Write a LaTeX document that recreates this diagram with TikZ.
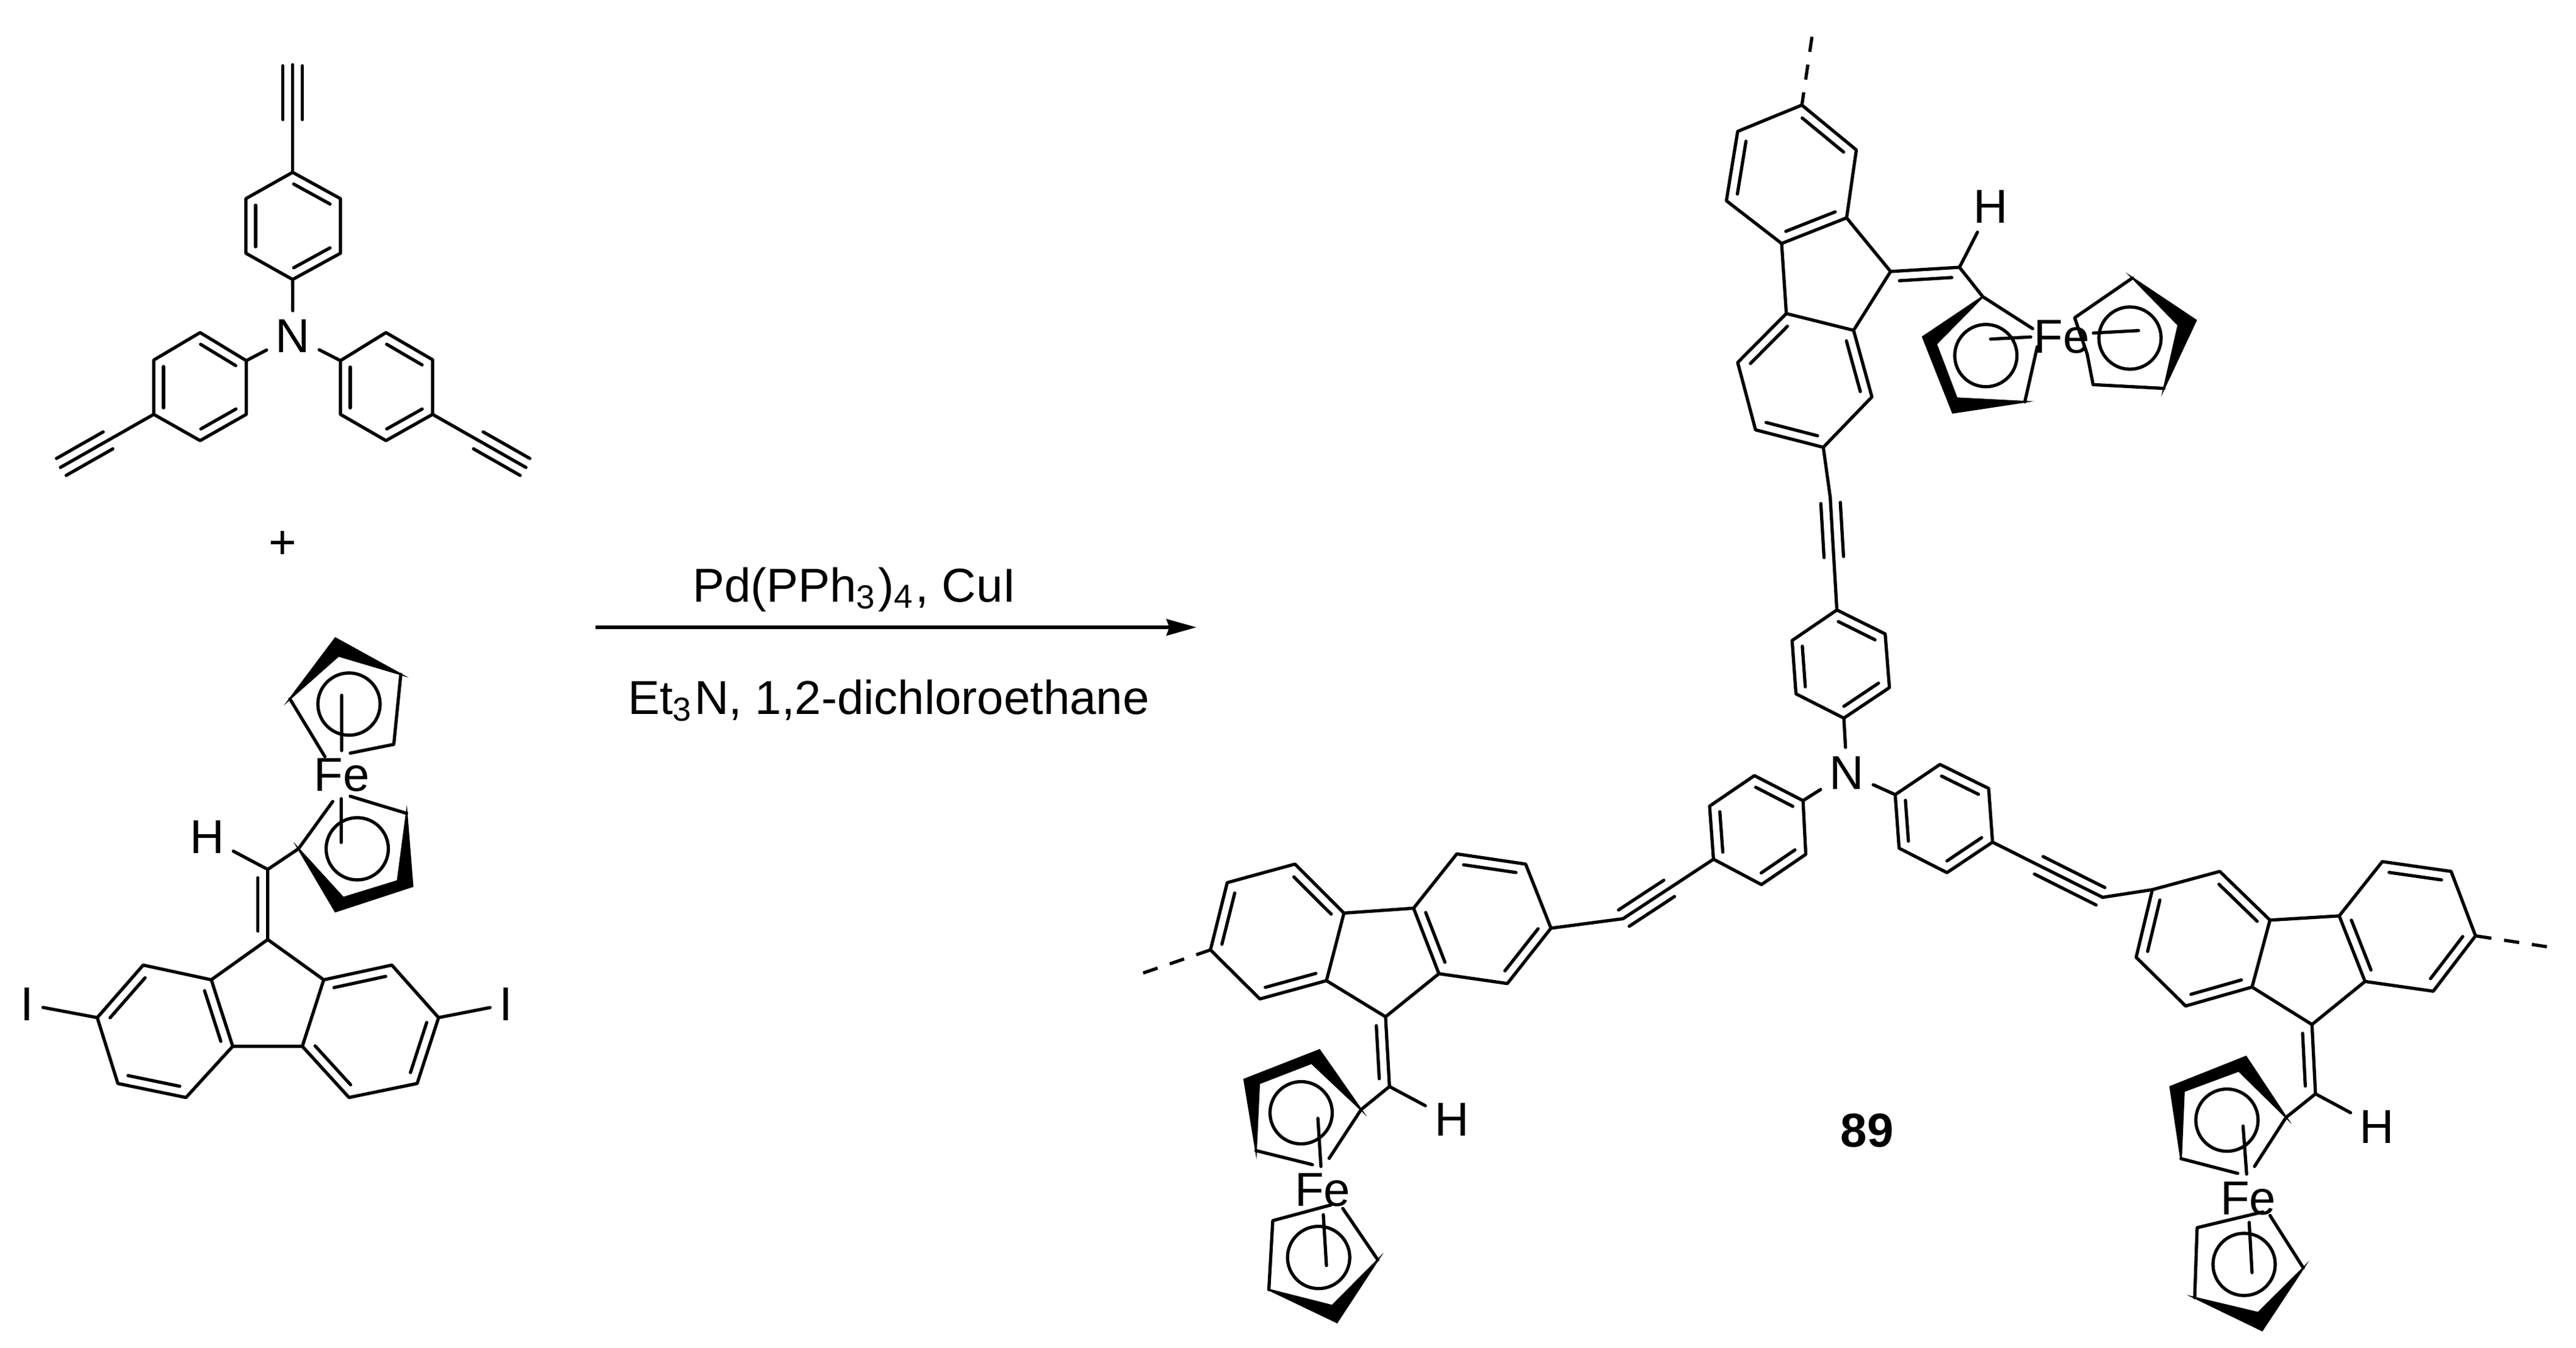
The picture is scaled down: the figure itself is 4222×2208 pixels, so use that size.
\documentclass[tikz,border=0pt]{standalone}
\usepackage{fontspec}
\setmainfont{Liberation Sans}
\usetikzlibrary{arrows.meta,calc}
\tikzstyle{bond}=[line width=.53pt,line cap=round,line join=round]
\tikzstyle{wedge}=[fill=black,draw=black,line width=.3pt,line join=miter]
\tikzstyle{free}=[line width=.53pt,line cap=butt,dash pattern=on 2.5pt off 2.1pt]
\tikzstyle{atom}=[inner sep=1.3pt,font=\fontsize{7.8}{9.4}\selectfont]
\tikzstyle{rxn}=[line width=.6pt,-{Stealth[length=4.9pt,width=2.67pt,inset=.45pt]}]
\newcommand{\dbond}[2]{\draw[bond] ($(#1)!.12!(#2)!1.6pt!-90:(#2)$) -- ($(#2)!.12!(#1)!1.6pt!90:(#1)$);}
\newcommand{\tbond}[4]{\draw[bond] (#1) -- (#2)
  ($(#1)!#3!(#2)!1.6pt!90:(#2)$) -- ($(#1)!#4!(#2)!1.6pt!90:(#2)$)
  ($(#1)!#3!(#2)!1.6pt!-90:(#2)$) -- ($(#1)!#4!(#2)!1.6pt!-90:(#2)$);}
\newcommand{\atomlist}[1]{\foreach \n/\x/\y in {#1} \coordinate (\n) at (\x,\y);}
\begin{document}
\begin{tikzpicture}[x=.1pt,y=-.1pt]
\useasboundingbox (0,0) rectangle (4222,2208);
% triamine
\node[atom] (nA) at (480,551) {N};
\atomlist{a1/479.6/282.4,a2/558/325.5,a3/558/415,a4/479.6/458,a5/403/415,a6/403/325.5,aEnd/479.6/106}
\atomlist{l1/403.7/591,l2/328/545,l3/252/590,l4/252/679,l5/328/722,l6/403.7/679,lEnd/99/766}
\atomlist{r1/558/591,r2/632.6/545,r3/709/589.5,r4/709/679,r5/632.6/722,r6/558/679,rEnd/862/766}
\draw[bond] (a1)--(a2)--(a3)--(a4)--(a5)--(a6)--cycle;
\draw[bond] (l1)--(l2)--(l3)--(l4)--(l5)--(l6)--cycle;
\draw[bond] (r1)--(r2)--(r3)--(r4)--(r5)--(r6)--cycle;
\dbond{a1}{a2} \dbond{a3}{a4} \dbond{a5}{a6}
\dbond{l2}{l1} \dbond{l4}{l3} \dbond{l6}{l5}
\dbond{r2}{r3} \dbond{r4}{r5} \dbond{r6}{r1}
\tbond{a1}{aEnd}{.49}{.99}
\tbond{l4}{lEnd}{.49}{.99}
\tbond{r4}{rEnd}{.49}{.99}
\draw[bond] (a4) -- (nA);
\draw[bond] (l1) -- (nA);
\draw[bond] (r1) -- (nA);
\node[atom] (plus) at (463,893) {+};
% iodofluorene
\node[atom] (bI1) at (44.6,1646) {I};
\node[atom] (bI2) at (829,1646) {I};
\node[atom] (bH) at (339.3,1372) {H};
\node[atom] (bFe) at (560,1270) {Fe};
\atomlist{bl1/346.3/1605.6,bl2/234.7/1581.5,bl3/159.4/1667.6,bl4/193.2/1775.5,bl5/304.8/1798.5,bl6/381.4/1714.6}
\atomlist{br1/530.6/1605.6,br2/642.2/1581.5,br3/718.8/1667.6,br4/683.7/1775.5,br5/572/1798.5,br6/495.5/1714.6}
\atomlist{bC9/438.8/1539.6,bCH/438.8/1424.7}
\draw[bond] (bl1)--(bl2)--(bl3)--(bl4)--(bl5)--(bl6)--cycle;
\draw[bond] (br1)--(br2)--(br3)--(br4)--(br5)--(br6)--cycle;
\draw[bond] (bl1)--(bC9)--(br1) (bl6)--(br6) (bC9)--(bCH);
\dbond{bl1}{bl6} \dbond{bl3}{bl2} \dbond{bl5}{bl4}
\dbond{br1}{br2} \dbond{br3}{br4} \dbond{br5}{br6}
\dbond{bCH}{bC9}
\draw[bond] (bI1) -- (bl3);
\draw[bond] (bI2) -- (br3);
\draw[bond] (bH) -- (bCH);
\atomlist{bc1/475.1/1145.2,bc2/549.7/1045.9,bc3/656.9/1105,bc4/554.8/1074.6,bc5/532.5/1239.9,bc6/645.4/1219.8,bc7/574/1234.2,bc8/572/1153.8,bs1/560/1139.4,bs2/560/1230}
\atomlist{bd1/489.2/1390.9,bd2/545.3/1313.4,bd3/574/1304.8,bd4/666.5/1332.9,bd5/676/1452.3,bd6/549.7/1493.6,bd7/562.5/1471.2,bd8/651.8/1443.7,bd9/585.5/1390.9,bt1/559.3/1308.8,bt2/559.3/1380.5}
\fill[wedge] (bc1)--(bc2)--(bc3)--(bc4)--cycle;
\draw[bond] (bc1)--(bc5) (bc7)--(bc6)--(bc3) (bs1)--(bs2);
\draw[bond] (bc8) circle [radius=5.1pt];
\fill[wedge] (bd4)--(bd5)--(bd6)--(bd1)--(bd7)--(bd8)--cycle;
\draw[bond] (bd2)--(bd1)--(bCH) (bd3)--(bd4) (bt1)--(bt2);
\draw[bond] (bd9) circle [radius=5.1pt];
% reagents
\coordinate (arrS) at (976,1028);
\coordinate (arrE) at (1961,1028);
\draw[rxn] (arrS) -- (arrE);
\node[atom,anchor=base west,inner sep=0pt] (cond1) at (1133,986.7) {Pd(PPh\textsubscript{3})\textsubscript{4}, CuI};
\node[atom,anchor=base west,inner sep=0pt] (cond2) at (1027,1170.7) {Et\textsubscript{3}N, 1,2-dichloroethane};
% product core
\node[atom] (nP) at (3027,1266.5) {N};
\atomlist{t1/3010.6/999.6,t2/3089.7/1038.8,t3/3096.7/1126.8,t4/3022/1176.8,t5/2943.6/1137,t6/2937.2/1049.6}
\atomlist{p1/2955.1/1312,p2/2875.4/1271,p3/2802/1321,p4/2808.4/1408,p5/2886.9/1449.6,p6/2959.6/1400}
\atomlist{q1/3106.2/1302.2,q2/3179.6/1252.7,q3/3259.3/1292,q4/3265.7/1380,q5/3191/1430,q6/3112.6/1390}
\atomlist{tc/2999.7/815,pc/2660/1505.5,qc/3446.2/1470.5}
\draw[bond] (t1)--(t2)--(t3)--(t4)--(t5)--(t6)--cycle;
\draw[bond] (p1)--(p2)--(p3)--(p4)--(p5)--(p6)--cycle;
\draw[bond] (q1)--(q2)--(q3)--(q4)--(q5)--(q6)--cycle;
\dbond{t1}{t2} \dbond{t3}{t4} \dbond{t5}{t6}
\dbond{p2}{p1} \dbond{p4}{p3} \dbond{p6}{p5}
\dbond{q2}{q3} \dbond{q4}{q5} \dbond{q6}{q1}
\tbond{tc}{t1}{.05}{.53}
\tbond{p4}{pc}{.49}{.99}
\tbond{q4}{qc}{.42}{.98}
\draw[bond] (t4) -- (nP);
\draw[bond] (p1) -- (nP);
\draw[bond] (q1) -- (nP);
\node[atom,font=\fontsize{7.8}{9.4}\selectfont\bfseries] (cmpd) at (3060,1853) {89};
% upper arm
\node[atom] (uH) at (3262.5,338.7) {H};
\node[atom] (uFe) at (3379.2,552.2) {Fe};
\atomlist{ua1/2953.2/172.2,ua2/3042.5/245.7,ua3/3026.5/357,ua4/2920/399,ua5/2829.5/329,ua6/2848/215.3,uEnd/2969.8/60.3}
\atomlist{ub1/2927.7/513.8,ub2/3038/541.3,ub3/3068/650.4,ub4/2988.3/733,ub5/2877.3/704.4,ub6/2848/594}
\atomlist{uC9/3098.6/444.9,uCH/3211.5/438}
\draw[bond] (ua1)--(ua2)--(ua3)--(ua4)--(ua5)--(ua6)--cycle;
\draw[bond] (ub1)--(ub2)--(ub3)--(ub4)--(ub5)--(ub6)--cycle;
\draw[bond] (ua3)--(uC9)--(ub2) (ua4)--(ub1) (uC9)--(uCH) (ub4)--(tc);
\dbond{ua1}{ua2} \dbond{ua3}{ua4} \dbond{ua5}{ua6}
\dbond{ub2}{ub3} \dbond{ub4}{ub5} \dbond{ub6}{ub1}
\dbond{uC9}{uCH}
\draw[free] (uEnd) -- (ua1);
\draw[bond] (uH) -- (uCH);
\atomlist{uc1/3249.7/486.2,uc2/3331.4/538.5,uc3/3151.5/552.2,uc4/3200.6/676.2,uc5/3318.6/658.4,uc6/3207/652.7,uc7/3173.2/563.7,uc8/3339/568.3,uc9/3254.8/582.7,us1/3262.5/555.7,us2/3328.2/552.2}
\atomlist{ud1/3420.7/579.8,ud2/3430.5/630.3,ud3/3546.7/636.5,ud4/3599/525,ud5/3495/455.5,ud6/3570.3/532.7,ud7/3400.3/520.7,ud8/3491/554,ut1/3431/545.7,ut2/3505/541.7}
\fill[wedge] (uc1)--(uc3)--(uc4)--(uc5)--(uc6)--(uc7)--cycle;
\draw[bond] (uCH)--(uc1)--(uc2) (uc5)--(uc8) (us1)--(us2);
\draw[bond] (uc9) circle [radius=5.1pt];
\fill[wedge] (ud3)--(ud4)--(ud5)--(ud6)--cycle;
\draw[bond] (ud1)--(ud2)--(ud3) (ud5)--(ud7)--(ud1) (ut1)--(ut2);
\draw[bond] (ud8) circle [radius=5.1pt];
% west arm
\node[atom] (wH) at (2379.3,1835) {H};
\node[atom] (wFe) at (2167.6,1950) {Fe};
\atomlist{wa1/1983.9/1556.6,wa2/2011.4/1446.4,wa3/2122.3/1416,wa4/2202.7/1496.3,wa5/2174/1607,wa6/2064.9/1637,wEnd/1873.6/1594.5}
\atomlist{wb1/2316.8/1488.3,wb2/2387.6/1399.3,wb3/2500.5/1416,wb4/2542/1521,wb5/2470.5/1611.7,wb6/2358.3/1595.6}
\atomlist{wC9/2270.9/1666.2,wCH/2277.3/1780.5}
\draw[bond] (wa1)--(wa2)--(wa3)--(wa4)--(wa5)--(wa6)--cycle;
\draw[bond] (wb1)--(wb2)--(wb3)--(wb4)--(wb5)--(wb6)--cycle;
\draw[bond] (wa5)--(wC9)--(wb6) (wa4)--(wb1) (wC9)--(wCH) (wb4)--(pc);
\dbond{wa1}{wa2} \dbond{wa3}{wa4} \dbond{wa5}{wa6}
\dbond{wb2}{wb3} \dbond{wb4}{wb5} \dbond{wb6}{wb1}
\dbond{wC9}{wCH}
\draw[free] (wEnd) -- (wa1);
\draw[bond] (wH) -- (wCH);
\atomlist{wc1/2230.7/1818.4,wc2/2162.5/1720.8,wc3/2039.4/1769,wc4/2058.5/1885.5,wc5/2063.6/1775.3,wc6/2149.7/1742,wc7/2151/1908.5,wc8/2178.4/1898.2,wc9/2132.5/1823.5,ws1/2160/1832.7,ws2/2165/1911.4}
\atomlist{wd1/2086/2000.3,wd2/2181.6/1974.5,wd3/2200.8/1980.3,wd4/2258.2/2064.6,wd5/2079.6/2113.4,wd6/2191.2/2166.8,wd7/2183.5/2139.8,wd8/2161.2/2060.6,wt1/2168.9/1990.6,wt2/2174/2073.8}
\fill[wedge] (wc1)--(wc2)--(wc3)--(wc4)--(wc5)--(wc6)--cycle;
\draw[bond] (wCH)--(wc1)--(wc8) (wc4)--(wc7) (ws1)--(ws2);
\draw[bond] (wc9) circle [radius=5.1pt];
\fill[wedge] (wd5)--(wd6)--(wd4)--(wd7)--cycle;
\draw[bond] (wd2)--(wd1)--(wd5) (wd3)--(wd4) (wt1)--(wt2);
\draw[bond] (wd8) circle [radius=5.1pt];
% east arm
\node[atom] (eH) at (3895.6,1846.5) {H};
\node[atom] (eFe) at (3684.5,1964) {Fe};
\atomlist{ea1/3527.6/1457.9,ea2/3638.1/1428,ea3/3720.4/1507.8,ea4/3691/1617.5,ea5/3582.2/1648.5,ea6/3501.1/1568.7}
\atomlist{eb1/3833.9/1500.9,eb2/3904.5/1411.9,eb3/4017.3/1428,eb4/4057.3/1533.6,eb5/3988/1624.3,eb6/3876.2/1608.3,eEnd/4174.3/1551.4}
\atomlist{eC9/3789.2/1678.9,eCH/3795/1792.5}
\draw[bond] (ea1)--(ea2)--(ea3)--(ea4)--(ea5)--(ea6)--cycle;
\draw[bond] (eb1)--(eb2)--(eb3)--(eb4)--(eb5)--(eb6)--cycle;
\draw[bond] (ea4)--(eC9)--(eb6) (ea3)--(eb1) (eC9)--(eCH) (ea1)--(qc);
\dbond{ea2}{ea3} \dbond{ea4}{ea5} \dbond{ea6}{ea1}
\dbond{eb2}{eb3} \dbond{eb4}{eb5} \dbond{eb6}{eb1}
\dbond{eC9}{eCH}
\draw[free] (eEnd) -- (eb4);
\draw[bond] (eH) -- (eCH);
\atomlist{ec1/3746.9/1831,ec2/3681/1731.7,ec3/3557/1781,ec4/3574.6/1898.7,ec5/3579.3/1788,ec6/3669.3/1754.7,ec7/3667.5/1922.8,ec8/3695.1/1911.4,ec9/3649.9/1835.6,es1/3676.3/1845.3,es2/3682.2/1924}
\atomlist{ed1/3601/2011.8,ed2/3708.7/1986,ed3/3720.4/1991.7,ed4/3775.1/2077.8,ed5/3597/2126.6,ed6/3707.5/2180,ed7/3701/2151.3,ed8/3678/2072,et1/3686.3/2003.2,et2/3691/2085.3}
\fill[wedge] (ec1)--(ec2)--(ec3)--(ec4)--(ec5)--(ec6)--cycle;
\draw[bond] (eCH)--(ec1)--(ec8) (ec4)--(ec7) (es1)--(es2);
\draw[bond] (ec9) circle [radius=5.1pt];
\fill[wedge] (ed5)--(ed6)--(ed4)--(ed7)--cycle;
\draw[bond] (ed2)--(ed1)--(ed5) (ed3)--(ed4) (et1)--(et2);
\draw[bond] (ed8) circle [radius=5.1pt];
\end{tikzpicture}
\end{document}
